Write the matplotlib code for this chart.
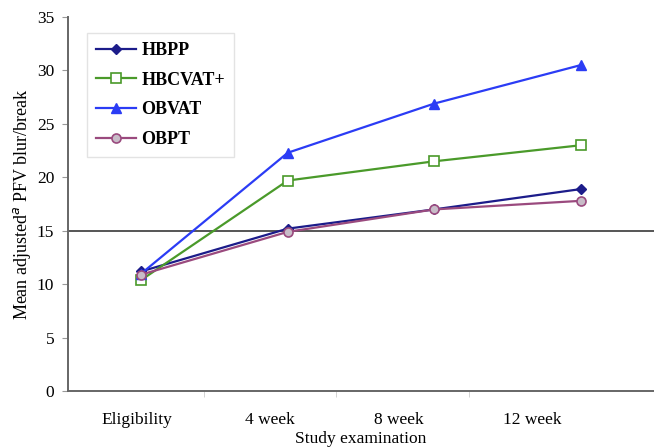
import matplotlib
matplotlib.use("Agg")
import matplotlib.pyplot as plt

categories = ["Eligibility", "4 week", "8 week", "12 week"]
hbpp = [11.2, 15.2, 17.0, 18.9]
hbcvat = [10.4, 19.7, 21.5, 23.0]
obvat = [11.0, 22.3, 26.9, 30.5]
obpt = [10.9, 14.9, 17.0, 17.8]
yticks = [0, 5, 10, 15, 20, 25, 30, 35]

plt.rcParams['font.family'] = ['Liberation Serif', 'DejaVu Serif']

fig = plt.figure(figsize=(6.54, 4.47), dpi=100)
ax = fig.add_axes([0.104, 0.125, 0.896, 0.837])

x = list(range(len(categories)))
ax.axhline(15, color='#555555', lw=1.4, zorder=1)
ax.plot(x, hbpp, color='#1c1c8a', marker='D', ms=5, mfc='#1c1c8a', mec='#1c1c8a', lw=1.6, label='HBPP', zorder=3)
ax.plot(x, hbcvat, color='#4a9a2a', marker='s', ms=6.5, mfc='white', mec='#4a9a2a', mew=1.2, lw=1.6, label='HBCVAT+', zorder=3)
ax.plot(x, obvat, color='#2b3cf5', marker='^', ms=7, mfc='#2b3cf5', mec='#2b3cf5', lw=1.6, label='OBVAT', zorder=3)
ax.plot(x, obpt, color='#9a4a7e', marker='o', ms=6.5, mfc='#c8bcc8', mec='#9a4a7e', mew=1.2, lw=1.6, label='OBPT', zorder=3)

ax.set_xlim(-0.5, 3.5)
ax.set_ylim(0, 35)
ax.set_yticks(yticks)
ax.set_yticklabels([str(v) for v in yticks], fontsize=12.5)
# category labels (positions offset as in the reference image)
label_pos = [-0.03, 0.88, 1.76, 2.67]
ax.set_xticks(label_pos)
ax.set_xticklabels(categories, fontsize=12.5)
ax.tick_params(axis='x', length=0, pad=15)
ax.tick_params(axis='y', length=4, color='#999999', direction='out', pad=6)
ax.set_xticks([0.43, 1.33, 2.24], minor=True)
ax.tick_params(axis='x', which='minor', length=4, color='#cccccc', direction='out')

for s in ['top', 'right']:
    ax.spines[s].set_visible(False)
for s in ['left', 'bottom']:
    ax.spines[s].set_color('#666666')
    ax.spines[s].set_linewidth(1.4)

ax.set_xlabel('Study examination', fontsize=12.5, labelpad=2)
ax.set_ylabel('Mean adjusted$^a$ PFV blur/break', fontsize=13, labelpad=3)

leg = ax.legend(loc='upper left', bbox_to_anchor=(0.033, 0.957),
                prop={'weight': 'bold', 'size': 13, 'family': 'Liberation Serif'},
                frameon=True, fancybox=False, edgecolor='#dddddd',
                borderpad=0.5, labelspacing=0.7, handlelength=2.2, handletextpad=0.3,
                borderaxespad=0)
leg.get_frame().set_linewidth(1.0)

fig.savefig('out.png', dpi=100)
